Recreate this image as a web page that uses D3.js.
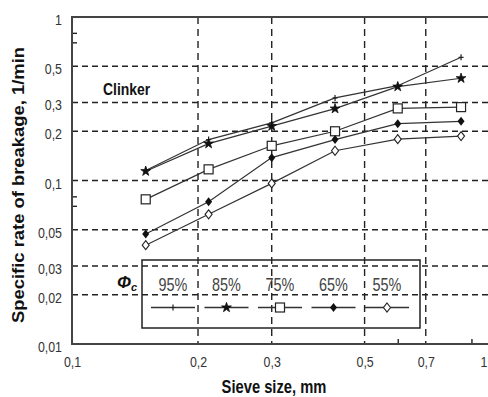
<!DOCTYPE html>
<html>
<head>
<meta charset="utf-8">
<script src="https://cdn.jsdelivr.net/npm/d3@7"></script>
<style>
  html, body { margin: 0; padding: 0; background: #fff; }
  svg { display: block; }
  text { font-family: "Liberation Sans", Arial, sans-serif; }
</style>
</head>
<body>
<svg id="chart" width="488" height="397"></svg>
<script>
// Sieve sizes (mm) at which breakage rates were measured
const sizes = [0.15, 0.212, 0.3, 0.425, 0.6, 0.85];

// Specific rate of breakage (1/min) for each mill filling fraction
const phi95 = [0.115, 0.178, 0.225, 0.32, 0.38, 0.567];
const phi85 = [0.114, 0.168, 0.215, 0.275, 0.375, 0.422];
const phi75 = [0.0767, 0.117, 0.163, 0.2, 0.276, 0.281];
const phi65 = [0.0471, 0.0742, 0.138, 0.178, 0.2226, 0.23];
const phi55 = [0.0402, 0.0621, 0.096, 0.152, 0.179, 0.187];

const seriesNames = ["95%", "85%", "75%", "65%", "55%"];
const seriesValues = [phi95, phi85, phi75, phi65, phi55];

const xTicks = [0.1, 0.2, 0.3, 0.5, 0.7, 1];
const xTickLabels = ["0,1", "0,2", "0,3", "0,5", "0,7", "1"];
const xMinor = [0.6, 0.9];
const xGrid = [0.2, 0.3, 0.5, 0.7];

const yTicks = [1, 0.5, 0.3, 0.2, 0.1, 0.05, 0.03, 0.02, 0.01];
const yTickLabels = ["1", "0,5", "0,3", "0,2", "0,1", "0,05", "0,03", "0,02", "0,01"];
const yMinor = [0.07, 0.08, 0.7, 0.8];
const yGrid = [0.5, 0.3, 0.2, 0.1, 0.05, 0.03, 0.02];

const svg = d3.select("#chart");
const W = 488;
const plotL = 72, plotT = 17, plotB = 344, plotR = 490.6;

const x = d3.scaleLog().domain([0.1, 1]).range([plotL, plotR]);
const y = d3.scaleLog().domain([0.01, 1]).range([plotB, plotT]);

const ink = "#222";
const NARROW = 0.8; // horizontal squeeze giving a condensed face

// text squeezed horizontally around its anchor point
function narrowText(parent, tx, ty, str, opts) {
  return parent.append("text")
    .attr("transform", `translate(${tx},${ty}) scale(${opts.sx || NARROW},1)`)
    .attr("font-size", opts.size)
    .attr("font-weight", opts.weight || "normal")
    .attr("text-anchor", opts.anchor || "start")
    .attr("fill", opts.fill || "#111")
    .text(str);
}

// dashed grid
const grid = svg.append("g").attr("stroke", ink).attr("stroke-width", 1.4)
  .attr("stroke-dasharray", "6,4");
grid.selectAll("line.h").data(yGrid).join("line").attr("class", "h")
  .attr("x1", plotL).attr("x2", W).attr("y1", d => y(d)).attr("y2", d => y(d));
grid.selectAll("line.v").data(xGrid).join("line").attr("class", "v")
  .attr("y1", plotT).attr("y2", plotB).attr("x1", d => x(d)).attr("x2", d => x(d))
  .attr("stroke-dasharray", "7,5");

// axes
const xAxis = svg.append("g").attr("transform", `translate(0,${plotB})`)
  .call(d3.axisBottom(x).tickValues(xTicks).tickFormat((d, i) => xTickLabels[i]).tickSize(0));
const yAxis = svg.append("g").attr("transform", `translate(${plotL},0)`)
  .call(d3.axisLeft(y).tickValues(yTicks).tickFormat((d, i) => yTickLabels[i]).tickSize(0));
[xAxis, yAxis].forEach(a => a.select(".domain").remove());
xAxis.selectAll("text")
  .attr("x", null).attr("y", null).attr("dy", null)
  .attr("transform", `translate(0,${367 - plotB}) scale(${NARROW},1)`)
  .attr("font-size", 15.5).attr("fill", "#333");
// the last x label sits at the right border; keep it inside the page
xAxis.selectAll("text").filter(d => x(d) > W - 6)
  .attr("text-anchor", "end")
  .attr("transform", d => `translate(${W - 1 - x(d)},${367 - plotB}) scale(${NARROW},1)`);
yAxis.selectAll("text")
  .attr("x", null).attr("dy", null)
  .attr("transform", `translate(-10,7.5) scale(${NARROW},1)`)
  .attr("font-size", 15.5).attr("fill", "#333");

// minor ticks pointing inward
svg.append("g").attr("transform", `translate(0,${plotB})`)
  .call(d3.axisBottom(x).tickValues(xMinor).tickSize(-5).tickFormat(""))
  .call(g => g.select(".domain").remove())
  .selectAll("line").attr("stroke", ink).attr("stroke-width", 1.4);
svg.append("g").attr("transform", `translate(${plotL},0)`)
  .call(d3.axisLeft(y).tickValues(yMinor).tickSize(-5).tickFormat(""))
  .call(g => g.select(".domain").remove())
  .selectAll("line").attr("stroke", ink).attr("stroke-width", 1.4);

// frame lines
svg.append("path")
  .attr("d", `M${W},${plotT}H${plotL}V${plotB}H${W}`)
  .attr("fill", "none").attr("stroke", "#444").attr("stroke-width", 2);

// series markers
function drawMarker(g, k, cx, cy) {
  if (k === 0) {
    g.append("path").attr("d", `M${cx - 2.5},${cy}H${cx + 2.5}M${cx},${cy - 3}V${cy + 3}`)
      .attr("stroke", ink).attr("stroke-width", 1.2);
  } else if (k === 1) {
    g.append("path").attr("d", d3.symbol(d3.symbolStar, 30)()).attr("transform", `translate(${cx},${cy})`)
      .attr("fill", "#111").attr("stroke", "#111").attr("stroke-width", 0.8);
  } else if (k === 2) {
    g.append("rect").attr("x", cx - 4.5).attr("y", cy - 4.5).attr("width", 9).attr("height", 9)
      .attr("fill", "#fff").attr("stroke", ink).attr("stroke-width", 1.2);
  } else if (k === 3) {
    g.append("path").attr("d", `M${cx},${cy - 4.5}L${cx + 3.5},${cy}L${cx},${cy + 4.5}L${cx - 3.5},${cy}Z`)
      .attr("fill", "#111");
  } else {
    g.append("path").attr("d", `M${cx},${cy - 4.5}L${cx + 3.5},${cy}L${cx},${cy + 4.5}L${cx - 3.5},${cy}Z`)
      .attr("fill", "#fff").attr("stroke", ink).attr("stroke-width", 1.1);
  }
}

const line = d3.line().x(d => x(d[0])).y(d => y(d[1]));
seriesValues.forEach((vals, k) => {
  const pts = sizes.map((s, i) => [s, vals[i]]);
  const g = svg.append("g");
  g.append("path").attr("d", line(pts)).attr("fill", "none")
    .attr("stroke", "#333").attr("stroke-width", 1.2);
  pts.forEach(p => drawMarker(g, k, x(p[0]), y(p[1])));
});

// legend
const legend = svg.append("g");
legend.append("rect").attr("x", 142).attr("y", 260).attr("width", 278).attr("height", 68)
  .attr("fill", "none").attr("stroke", ink).attr("stroke-width", 1.5);
const legendCx = d3.scaleLinear().domain([0, 4]).range([173, 387]);
seriesNames.forEach((name, k) => {
  const cx = legendCx(k);
  narrowText(legend, cx, 291, name, { size: 18, anchor: "middle", fill: "#444" });
  legend.append("line").attr("x1", cx - 22).attr("x2", cx + 22).attr("y1", 307.5).attr("y2", 307.5)
    .attr("stroke", "#333").attr("stroke-width", 1.3);
  drawMarker(legend, k, cx, 307.5);
});
const phi = legend.append("text").attr("x", 117).attr("y", 288)
  .attr("font-family", "'DejaVu Serif', serif").attr("font-weight", "bold").attr("font-style", "italic")
  .attr("font-size", 17).attr("fill", "#111");
phi.append("tspan").text("Φ");
phi.append("tspan").attr("font-size", 11).attr("dy", 3).text("c");

// labels
narrowText(svg, 103, 95, "Clinker", { size: 17, weight: "bold", sx: 0.82 });
narrowText(svg, 274, 393, "Sieve size, mm", { size: 18, weight: "bold", anchor: "middle", sx: 0.82 });
svg.append("text")
  .attr("transform", "translate(24,185) rotate(-90)")
  .attr("text-anchor", "middle").attr("font-size", 16).attr("font-weight", "bold").attr("fill", "#111")
  .attr("textLength", 276).attr("lengthAdjust", "spacingAndGlyphs")
  .text("Specific rate of breakage, 1/min");
</script>
</body>
</html>
